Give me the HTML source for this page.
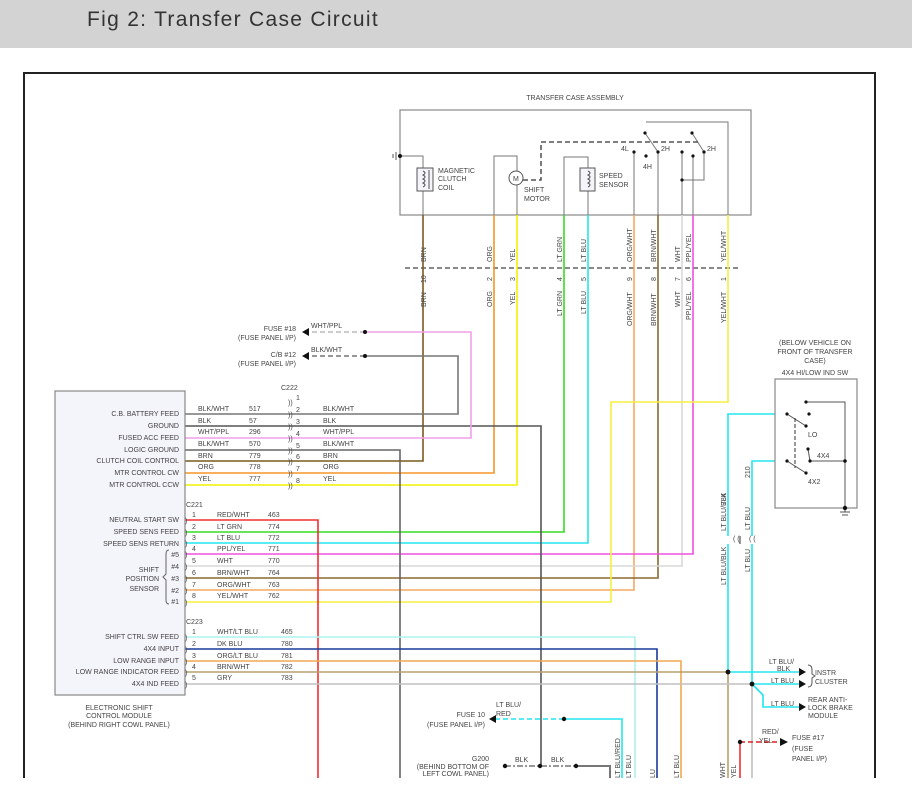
<!DOCTYPE html>
<html><head><meta charset="utf-8"><style>
html,body{margin:0;padding:0;background:#fff;width:912px;height:799px;overflow:hidden}
.hd{position:absolute;left:0;top:0;width:912px;height:48px;background:#d3d3d3}
.hd span{position:absolute;left:87px;top:8px;font:21px "Liberation Sans",sans-serif;color:#333;letter-spacing:1.3px}
svg{position:absolute;left:0;top:0}
text{font-family:"Liberation Sans",sans-serif;font-size:7px;fill:#444}
</style></head><body>
<div class="hd"><span>Fig 2: Transfer Case Circuit</span></div>
<svg width="912" height="799" viewBox="0 0 912 799">
<!-- outer frame -->
<path d="M24 778 V73 H875 V778" fill="none" stroke="#222" stroke-width="2"/>
<rect x="0" y="778" width="912" height="21" fill="#fff"/>

<!-- transfer case -->
<text x="575" y="100" text-anchor="middle">TRANSFER CASE ASSEMBLY</text>
<rect x="400" y="110" width="351" height="105" fill="none" stroke="#888" stroke-width="1.2"/>
<g stroke="#777" fill="none" stroke-width="1">
<path d="M400 156 H423 V168 M423 191 V215"/>
<path d="M494 215 V156 H517 V171 M517 185 V215"/>
<path d="M564 215 V157 H588 V168 M588 191 V215"/>
<path d="M646 122 H728 V215"/>
<path d="M634 152 V215 M658 152 V215 M682 152 V215 M693 156 V215"/>
<path d="M645 133 L658 152 M692 133 L704 152 M704 152 V180 H682"/>
</g>
<path d="M396 152 V160 M393 154 V158" stroke="#555"/>
<circle cx="400" cy="156" r="2" fill="#111"/>
<rect x="417" y="168" width="16" height="23" fill="#f4f4fb" stroke="#555"/>
<path d="M423 171 q4 2 0 4 q4 2 0 4 q4 2 0 4 q4 2 0 4 M429 170 V189" stroke="#555" fill="none"/>
<circle cx="516" cy="178" r="7" fill="#fff" stroke="#555"/>
<text x="513" y="181" font-size="7">M</text>
<path d="M523 180 H541 V142 H698" stroke="#333" stroke-width="1.3" stroke-dasharray="5,3" fill="none"/>
<rect x="580" y="168" width="15" height="23" fill="#f4f4fb" stroke="#555"/>
<path d="M588 171 q4 2 0 4 q4 2 0 4 q4 2 0 4 q4 2 0 4" stroke="#555" fill="none"/>
<g fill="#111"><circle cx="645" cy="133" r="1.6"/><circle cx="646" cy="156" r="1.6"/><circle cx="634" cy="152" r="1.6"/><circle cx="658" cy="152" r="1.6"/><circle cx="692" cy="133" r="1.6"/><circle cx="704" cy="152" r="1.6"/><circle cx="682" cy="152" r="1.6"/><circle cx="693" cy="156" r="1.6"/><circle cx="682" cy="180" r="1.6"/></g>
<text x="438" y="173">MAGNETIC</text><text x="438" y="181">CLUTCH</text><text x="438" y="190">COIL</text>
<text x="524" y="192">SHIFT</text><text x="524" y="201">MOTOR</text>
<text x="599" y="178">SPEED</text><text x="599" y="187">SENSOR</text>
<text x="621" y="151">4L</text><text x="661" y="151">2H</text><text x="643" y="169">4H</text><text x="707" y="151">2H</text>

<!-- connector dashed line -->
<path d="M405 268 H738" stroke="#444" stroke-width="1.3" stroke-dasharray="5,3"/>

<!-- wires -->
<g fill="none" stroke-width="1.6">
<path d="M423 215 V461 H185" stroke="#7a5a1e"/>
<path d="M494 215 V473 H185" stroke="#f5952a"/>
<path d="M517 215 V485 H185" stroke="#f2f200"/>
<path d="M564 215 V532 H185" stroke="#33dd22"/>
<path d="M588 215 V543 H185" stroke="#22e6ee"/>
<path d="M634 215 V590 H185" stroke="#f5a860"/>
<path d="M658 215 V578 H185" stroke="#8a6a30"/>
<path d="M682 215 V566 H185" stroke="#d8d8d8"/>
<path d="M693 215 V554 H185" stroke="#f050e0"/>
<path d="M728 215 V402 H611 V602 H185" stroke="#f5f040"/>
<path d="M185 414 H458 V356 H365" stroke="#777"/>
<path d="M185 426 H541 V766" stroke="#555"/>
<path d="M185 438 H471 V332 H365" stroke="#f0a0ea"/>
<path d="M185 450 H400 V778" stroke="#666"/>
<path d="M185 520 H318 V778" stroke="#f03030"/>
<path d="M185 637 H635 V778" stroke="#b0f2f2"/>
<path d="M185 649 H657 V778" stroke="#1a3a9a"/>
<path d="M185 661 H681 V778" stroke="#f0a850"/>
<path d="M185 672 H728 V778" stroke="#b8a070"/>
<path d="M185 684 H752 V778" stroke="#c0c0c0"/>
<path d="M728 672 V414 H775" stroke="#22e6ee"/>
<path d="M752 684 V461 H775" stroke="#22e6ee"/>
<path d="M728 672 H800 M752 684 H800 M752 684 L763 695 V707 H800" stroke="#22e6ee"/>
<path d="M564 719 H622 V778" stroke="#22e6ee"/>
<path d="M576 766 H610 V778" stroke="#777" stroke-width="2"/>
<path d="M740 742 V778" stroke="#f03030"/>
</g>
<rect x="723" y="536" width="34" height="8" fill="#fff"/>
<text transform="translate(733,541)" font-size="8">( (</text>
<text transform="translate(749,541)" font-size="8">( (</text>
<path d="M740 536 V544" stroke="#333"/>
<path d="M365 332 H308" stroke="#bbb" stroke-width="1.5" stroke-dasharray="5,3"/>
<path d="M365 356 H308" stroke="#777" stroke-width="1.5" stroke-dasharray="5,3"/>
<path d="M564 719 H496" stroke="#22e6ee" stroke-width="1.5" stroke-dasharray="5,3"/>
<path d="M505 766 H576" stroke="#777" stroke-width="1.5" stroke-dasharray="6,2,2,2"/>
<path d="M740 742 H780" stroke="#e02020" stroke-width="1.5" stroke-dasharray="5,3"/>
<g fill="#111">
<circle cx="365" cy="332" r="2"/><circle cx="365" cy="356" r="2"/>
<polygon points="302,332 309,328 309,336"/><polygon points="302,356 309,352 309,360"/>
<circle cx="564" cy="719" r="2.2"/><polygon points="489,719 496,715 496,723"/>
<circle cx="505" cy="766" r="2.2"/><circle cx="540" cy="766" r="2.2"/><circle cx="576" cy="766" r="2.2"/>
<circle cx="740" cy="742" r="2.2"/><polygon points="788,742 780,738 780,746"/>
<circle cx="728" cy="672" r="2.4"/><circle cx="752" cy="684" r="2.4"/>
<polygon points="806,672 799,668 799,676"/><polygon points="806,684 799,680 799,688"/><polygon points="806,707 799,703 799,711"/>
</g>

<g font-size="7">
<text transform="translate(426,262) rotate(-90)">BRN</text><text transform="translate(426,283) rotate(-90)">10</text><text transform="translate(426,307) rotate(-90)">BRN</text>
<text transform="translate(492,262) rotate(-90)">ORG</text><text transform="translate(492,281) rotate(-90)">2</text><text transform="translate(492,307) rotate(-90)">ORG</text>
<text transform="translate(515,262) rotate(-90)">YEL</text><text transform="translate(515,281) rotate(-90)">3</text><text transform="translate(515,305) rotate(-90)">YEL</text>
<text transform="translate(562,262) rotate(-90)">LT GRN</text><text transform="translate(562,281) rotate(-90)">4</text><text transform="translate(562,316) rotate(-90)">LT GRN</text>
<text transform="translate(586,262) rotate(-90)">LT BLU</text><text transform="translate(586,281) rotate(-90)">5</text><text transform="translate(586,314) rotate(-90)">LT BLU</text>
<text transform="translate(632,262) rotate(-90)">ORG/WHT</text><text transform="translate(632,281) rotate(-90)">9</text><text transform="translate(632,326) rotate(-90)">ORG/WHT</text>
<text transform="translate(656,262) rotate(-90)">BRN/WHT</text><text transform="translate(656,281) rotate(-90)">8</text><text transform="translate(656,326) rotate(-90)">BRN/WHT</text>
<text transform="translate(680,262) rotate(-90)">WHT</text><text transform="translate(680,281) rotate(-90)">7</text><text transform="translate(680,307) rotate(-90)">WHT</text>
<text transform="translate(691,262) rotate(-90)">PPL/YEL</text><text transform="translate(691,281) rotate(-90)">6</text><text transform="translate(691,320) rotate(-90)">PPL/YEL</text>
<text transform="translate(726,262) rotate(-90)">YEL/WHT</text><text transform="translate(726,281) rotate(-90)">1</text><text transform="translate(726,323) rotate(-90)">YEL/WHT</text>
<text transform="translate(726,505) rotate(-90)">784</text><text transform="translate(726,531) rotate(-90)">LT BLU/BLK</text><text transform="translate(726,585) rotate(-90)">LT BLU/BLK</text>
<text transform="translate(750,478) rotate(-90)">210</text><text transform="translate(750,530) rotate(-90)">LT BLU</text><text transform="translate(750,572) rotate(-90)">LT BLU</text>
<text transform="translate(620,778) rotate(-90)">LT BLU/RED</text><text transform="translate(631,778) rotate(-90)">LT BLU</text>
<text transform="translate(655,778) rotate(-90)">LU</text><text transform="translate(679,778) rotate(-90)">LT BLU</text>
<text transform="translate(725,778) rotate(-90)">WHT</text><text transform="translate(736,778) rotate(-90)">YEL</text>
</g>

<text x="296" y="331" text-anchor="end">FUSE #18</text><text x="296" y="340" text-anchor="end">(FUSE PANEL I/P)</text>
<text x="311" y="328">WHT/PPL</text>
<text x="296" y="357" text-anchor="end">C/B #12</text><text x="296" y="366" text-anchor="end">(FUSE PANEL I/P)</text>
<text x="311" y="352">BLK/WHT</text>
<text x="485" y="717" text-anchor="end">FUSE 10</text><text x="485" y="727" text-anchor="end">(FUSE PANEL I/P)</text>
<text x="496" y="707">LT BLU/</text><text x="496" y="716">RED</text>
<text x="489" y="761" text-anchor="end">G200</text><text x="489" y="769" text-anchor="end">(BEHIND BOTTOM OF</text><text x="489" y="776" text-anchor="end">LEFT COWL PANEL)</text>
<text x="515" y="762">BLK</text><text x="551" y="762">BLK</text>
<text x="762" y="734">RED/</text><text x="759" y="743">YEL</text>
<text x="792" y="740">FUSE #17</text><text x="792" y="751">(FUSE</text><text x="792" y="761">PANEL I/P)</text>
<text x="769" y="664">LT BLU/</text><text x="777" y="671">BLK</text><text x="771" y="683">LT BLU</text><text x="771" y="706">LT BLU</text>
<path d="M808 665 q4 0 4 5 v4 l3 2 l-3 2 v4 q0 5 -4 5" stroke="#555" fill="none"/>
<text x="815" y="675">INSTR</text><text x="815" y="684">CLUSTER</text>
<text x="808" y="702">REAR ANTI-</text><text x="808" y="710">LOCK BRAKE</text><text x="808" y="718">MODULE</text>

<text x="815" y="345" text-anchor="middle">(BELOW VEHICLE ON</text><text x="815" y="354" text-anchor="middle">FRONT OF TRANSFER</text><text x="815" y="363" text-anchor="middle">CASE)</text>
<text x="815" y="375" text-anchor="middle">4X4 HI/LOW IND SW</text>
<rect x="775" y="379" width="82" height="129" fill="none" stroke="#888" stroke-width="1.2"/>
<g stroke="#555" fill="none">
<path d="M806 402 H845 V461 M809 461 H845 V508"/>
<path d="M787 414 L806 426 M787 461 L806 473 M808 449 L810 461"/>
<path d="M795 418 V468" stroke-dasharray="4,2" stroke="#333"/>
<path d="M845 508 V512 M840 512 H850 M842 515 H848"/>
</g>
<g fill="#111"><circle cx="806" cy="402" r="1.6"/><circle cx="809" cy="414" r="1.6"/><circle cx="787" cy="414" r="1.6"/><circle cx="806" cy="426" r="1.6"/><circle cx="808" cy="449" r="1.6"/><circle cx="810" cy="461" r="1.6"/><circle cx="787" cy="461" r="1.6"/><circle cx="806" cy="473" r="1.6"/><circle cx="845" cy="461" r="1.8"/><circle cx="845" cy="508" r="2.2"/></g>
<text x="808" y="437">LO</text><text x="817" y="458">4X4</text><text x="808" y="484">4X2</text>

<rect x="55" y="391" width="130" height="304" fill="#f4f4fb" stroke="#888" stroke-width="1.2"/>
<g text-anchor="end">
<text x="179" y="416">C.B. BATTERY FEED</text><text x="179" y="428">GROUND</text><text x="179" y="440">FUSED ACC FEED</text>
<text x="179" y="452">LOGIC GROUND</text><text x="179" y="463">CLUTCH COIL CONTROL</text><text x="179" y="475">MTR CONTROL CW</text>
<text x="179" y="487">MTR CONTROL CCW</text>
<text x="179" y="522">NEUTRAL START SW</text><text x="179" y="534">SPEED SENS FEED</text><text x="179" y="546">SPEED SENS RETURN</text>
<text x="179" y="557">#5</text><text x="179" y="569">#4</text><text x="179" y="581">#3</text><text x="179" y="593">#2</text><text x="179" y="604">#1</text>
<text x="159" y="572">SHIFT</text><text x="159" y="581">POSITION</text><text x="159" y="591">SENSOR</text>
<text x="179" y="639">SHIFT CTRL SW FEED</text><text x="179" y="651">4X4 INPUT</text><text x="179" y="663">LOW RANGE INPUT</text>
<text x="179" y="674">LOW RANGE INDICATOR FEED</text><text x="179" y="686">4X4 IND FEED</text>
</g>
<path d="M169 550 q-3 0 -3 4 v20 l-3 3 l3 3 v20 q0 4 3 4" stroke="#666" fill="none"/>
<text x="119" y="710" text-anchor="middle">ELECTRONIC SHIFT</text><text x="119" y="718" text-anchor="middle">CONTROL MODULE</text><text x="119" y="727" text-anchor="middle">(BEHIND RIGHT COWL PANEL)</text>

<text x="281" y="390">C222</text>
<g>
<text x="198" y="411">BLK/WHT</text><text x="249" y="411">517</text><text x="323" y="411">BLK/WHT</text>
<text x="198" y="423">BLK</text><text x="249" y="423">57</text><text x="323" y="423">BLK</text>
<text x="198" y="434">WHT/PPL</text><text x="249" y="434">296</text><text x="323" y="434">WHT/PPL</text>
<text x="198" y="446">BLK/WHT</text><text x="249" y="446">570</text><text x="323" y="446">BLK/WHT</text>
<text x="198" y="458">BRN</text><text x="249" y="458">779</text><text x="323" y="458">BRN</text>
<text x="198" y="469">ORG</text><text x="249" y="469">778</text><text x="323" y="469">ORG</text>
<text x="198" y="481">YEL</text><text x="249" y="481">777</text><text x="323" y="481">YEL</text>
<text x="296" y="400">1</text><text x="296" y="412">2</text><text x="296" y="424">3</text><text x="296" y="436">4</text><text x="296" y="448">5</text><text x="296" y="459">6</text><text x="296" y="471">7</text><text x="296" y="483">8</text>
</g>
<g font-size="8" fill="#333">
<text x="288" y="405">))</text><text x="288" y="417">))</text><text x="288" y="429">))</text><text x="288" y="441">))</text><text x="288" y="453">))</text><text x="288" y="464">))</text><text x="288" y="476">))</text><text x="288" y="488">))</text>
</g>
<text x="186" y="507">C221</text>
<g>
<text x="192" y="517">1</text><text x="217" y="517">RED/WHT</text><text x="268" y="517">463</text>
<text x="192" y="529">2</text><text x="217" y="529">LT GRN</text><text x="268" y="529">774</text>
<text x="192" y="540">3</text><text x="217" y="540">LT BLU</text><text x="268" y="540">772</text>
<text x="192" y="551">4</text><text x="217" y="551">PPL/YEL</text><text x="268" y="551">771</text>
<text x="192" y="563">5</text><text x="217" y="563">WHT</text><text x="268" y="563">770</text>
<text x="192" y="575">6</text><text x="217" y="575">BRN/WHT</text><text x="268" y="575">764</text>
<text x="192" y="587">7</text><text x="217" y="587">ORG/WHT</text><text x="268" y="587">763</text>
<text x="192" y="598">8</text><text x="217" y="598">YEL/WHT</text><text x="268" y="598">762</text>
<text x="186" y="624">C223</text>
<text x="192" y="634">1</text><text x="217" y="634">WHT/LT BLU</text><text x="281" y="634">465</text>
<text x="192" y="646">2</text><text x="217" y="646">DK BLU</text><text x="281" y="646">780</text>
<text x="192" y="658">3</text><text x="217" y="658">ORG/LT BLU</text><text x="281" y="658">781</text>
<text x="192" y="669">4</text><text x="217" y="669">BRN/WHT</text><text x="281" y="669">782</text>
<text x="192" y="680">5</text><text x="217" y="680">GRY</text><text x="281" y="680">783</text>
</g>
<g font-size="8" fill="#333">
<text x="185" y="523">)</text><text x="185" y="535">)</text><text x="185" y="546">)</text><text x="185" y="557">)</text><text x="185" y="569">)</text><text x="185" y="581">)</text><text x="185" y="593">)</text><text x="185" y="605">)</text>
<text x="185" y="640">)</text><text x="185" y="652">)</text><text x="185" y="664">)</text><text x="185" y="675">)</text><text x="185" y="687">)</text>
</g>
</svg>
</body></html>
